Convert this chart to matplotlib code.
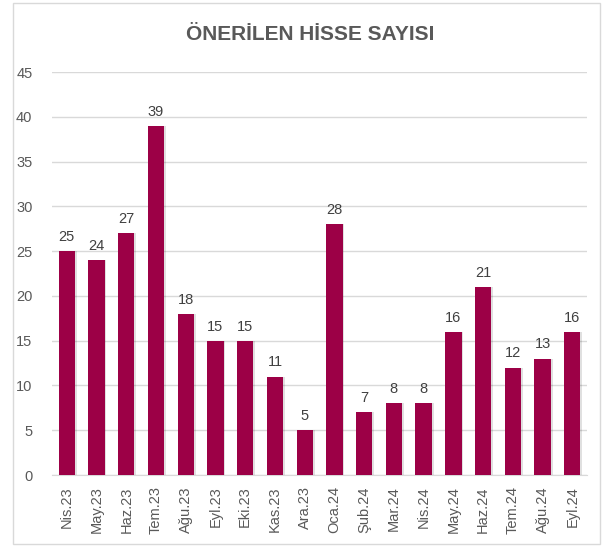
import matplotlib
matplotlib.use("Agg")
import matplotlib.pyplot as plt
from matplotlib.patches import Rectangle

categories = ["Nis.23", "May.23", "Haz.23", "Tem.23", "Ağu.23", "Eyl.23", "Eki.23", "Kas.23", "Ara.23",
              "Oca.24", "Şub.24", "Mar.24", "Nis.24", "May.24", "Haz.24", "Tem.24", "Ağu.24", "Eyl.24"]
values = [25, 24, 27, 39, 18, 15, 15, 11, 5, 28, 7, 8, 8, 16, 21, 12, 13, 16]
yticks = [0, 5, 10, 15, 20, 25, 30, 35, 40, 45]
title = "ÖNERİLEN HİSSE SAYISI"

plt.rcParams['font.family'] = ['Liberation Sans Narrow', 'Liberation Sans', 'DejaVu Sans']

fig = plt.figure(figsize=(6.11, 5.46), dpi=100)
ax = fig.add_axes([0.085, 0.130, 0.876, 0.738])

x = list(range(len(categories)))
bar_color = "#9C0046"
# subtle shadow
ax.bar([i + 0.06 for i in x], values, width=0.55, color="#000000", alpha=0.12, zorder=2)
bars = ax.bar(x, values, width=0.55, color=bar_color, zorder=3)
for i, v in zip(x, values):
    ax.text(i, v + 0.8, str(v), ha="center", va="bottom", fontsize=10.5, color="#404040")

ax.set_xlim(-0.5, len(categories) - 0.5)
ax.set_ylim(0, 45)
ax.set_yticks(yticks)
ax.set_yticklabels([str(t) for t in yticks], fontsize=10.5, color="#595959")
ax.set_xticks(x)
ax.set_xticklabels(categories, rotation=90, fontsize=10.5, color="#595959")
ax.grid(axis="y", color="#D9D9D9", linewidth=1, zorder=0)
for s in ["top", "right", "left"]:
    ax.spines[s].set_visible(False)
ax.spines["bottom"].set_color("#D9D9D9")
ax.tick_params(axis="both", length=0, pad=8)
ax.tick_params(axis="y", pad=14)

fig.text(0.507, 0.936, title, ha="center", va="center", fontsize=15, fontweight="bold", color="#595959")

fig.patches.append(Rectangle((13 / 611, 2 / 546), (600 - 13) / 611, (543 - 2) / 546,
                             transform=fig.transFigure, fill=False, edgecolor="#D9D9D9", linewidth=1))

fig.savefig("out.png", dpi=100)
